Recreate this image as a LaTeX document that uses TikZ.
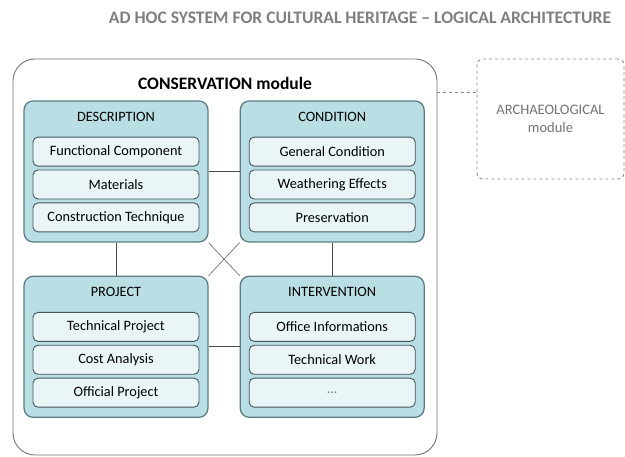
\documentclass[tikz,border=0pt]{standalone}
\usepackage{fontspec}
\setmainfont{Carlito}
\usepackage{xcolor}
\usepackage{tikz}
\usetikzlibrary{matrix,positioning}

\definecolor{grpfill}{HTML}{B9DEE3}
\definecolor{grpline}{HTML}{5E7D83}
\definecolor{itemfill}{HTML}{E9F5F7}
\definecolor{itemline}{HTML}{46565B}
\definecolor{headgray}{HTML}{7F7F7F}

\tikzset{
  group/.style={matrix of nodes, draw=grpline, line width=1.3pt, fill=grpfill, rounded corners=9pt,
    minimum width=183pt, minimum height=141pt, inner sep=8.5pt, row sep=3pt,
    font=\fontsize{14.3}{16}\selectfont, nodes={item}},
  item/.style={draw=itemline, line width=0.9pt, fill=itemfill, rounded corners=5pt,
    minimum width=166pt, minimum height=29pt, inner sep=0pt},
  grptitle/.style={draw=none, fill=none, minimum height=12pt},
  link/.style={draw=black!70, line width=0.8pt},
  diag/.style={draw=black!50, line width=0.8pt}
}

\begin{document}
\begin{tikzpicture}[x=1pt,y=-1pt]
\useasboundingbox (0,0) rectangle (625,457);
\node[font=\bfseries\fontsize{17.6}{20}\selectfont, text=headgray] (head) at (360,18) {AD HOC SYSTEM FOR CULTURAL HERITAGE – LOGICAL ARCHITECTURE};

% conservation module
\node[draw=black!55, line width=0.9pt, rounded corners=22pt, minimum width=424pt, minimum height=396pt] (cons) at (225,257) {};
\node[font=\bfseries\fontsize{17.5}{20}\selectfont] (constitle) at (225,83) {CONSERVATION module};

\matrix (desc) [group] at (116,171.5) {
  |[grptitle]| DESCRIPTION \\[11pt]
  Functional Component \\
  Materials \\
  Construction Technique \\
};
\matrix (cond) [group, right=31pt of desc] {
  |[grptitle]| CONDITION \\[11pt]
  General Condition \\
  Weathering Effects \\
  Preservation \\
};
\matrix (proj) [group, below=33pt of desc] {
  |[grptitle]| PROJECT \\[11pt]
  Technical Project \\
  Cost Analysis \\
  Official Project \\
};
\matrix (interv) [group, right=31pt of proj] {
  |[grptitle]| INTERVENTION \\[11pt]
  Office Informations \\
  Technical Work \\
  |[text=black!50]| ... \\
};

\draw[link] (desc) -- (cond);
\draw[link] (desc) -- (proj);
\draw[link] (cond) -- (interv);
\draw[link] (proj) -- (interv);
\draw[diag] (desc.south east) -- (interv.north west);
\draw[diag] (cond.south west) -- (proj.north east);

% archaeological module
\node[draw=black!45, dashed, line width=0.9pt, rounded corners=6pt, minimum width=147pt, minimum height=120pt,
  align=center, text=black!55, font=\fontsize{14.5}{18}\selectfont] (arch) at (550.5,119) {ARCHAEOLOGICAL\\module};
\coordinate (archlink) at ([yshift=-34pt]arch.north west);
\draw[draw=black!45, dashed, line width=0.9pt] (archlink -| cons.east) -- (archlink);
\end{tikzpicture}
\end{document}
